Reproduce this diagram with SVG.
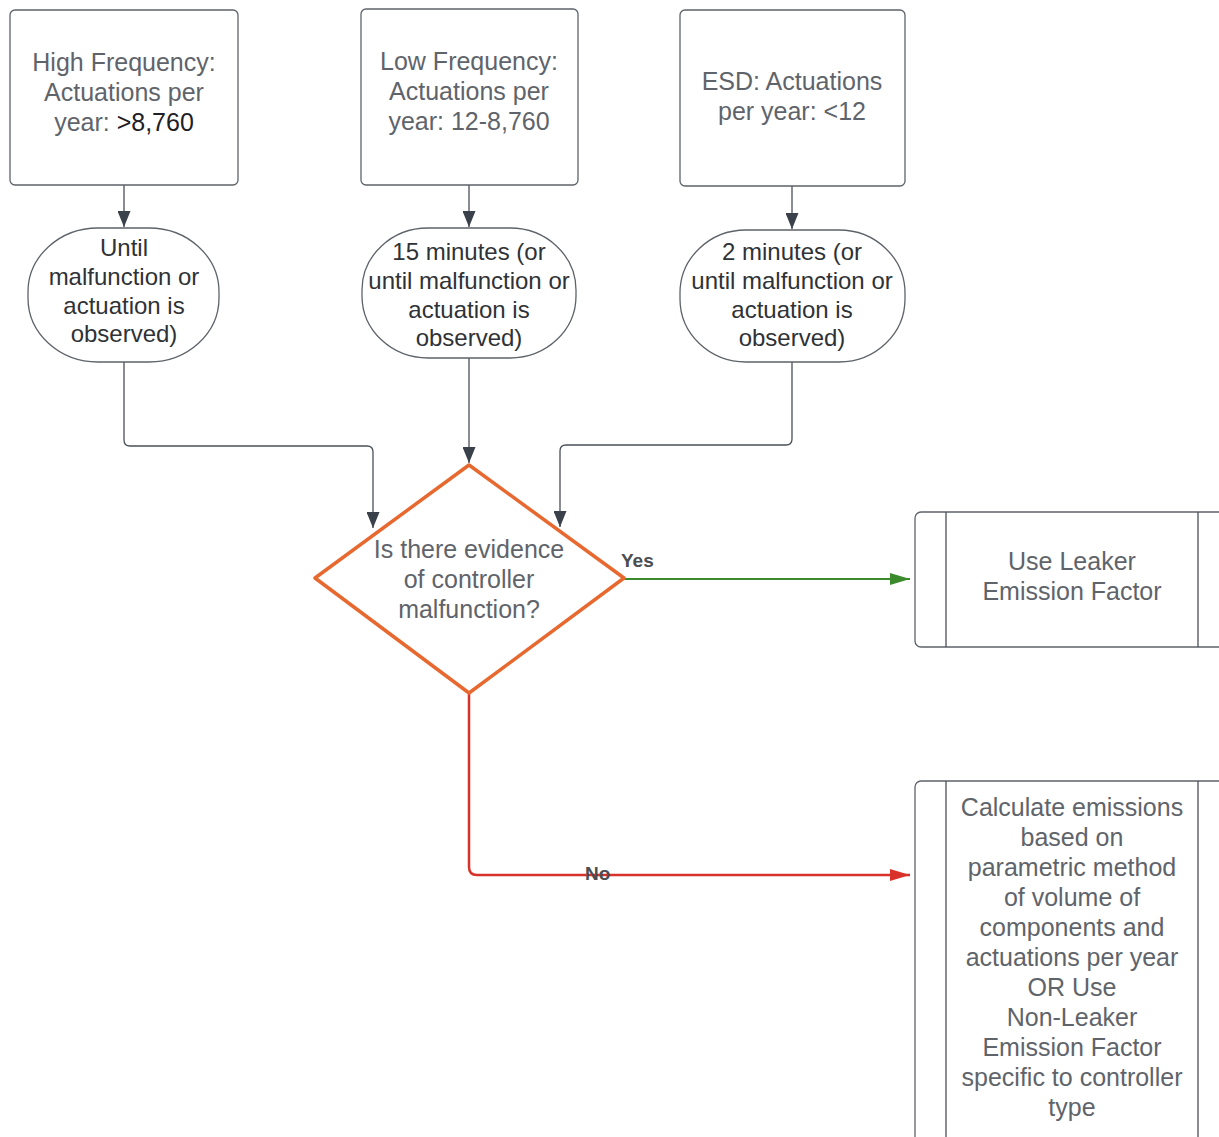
<svg xmlns="http://www.w3.org/2000/svg" width="1219" height="1137" viewBox="0 0 1219 1137">
<defs>
<marker id="ad" markerWidth="13" markerHeight="16" refX="6.5" refY="16" orient="0" markerUnits="userSpaceOnUse"><path d="M0,0 L13,0 L6.5,16 Z" fill="#3a414a"/></marker>
<marker id="ag" markerWidth="20" markerHeight="12" refX="20" refY="6" orient="auto" markerUnits="userSpaceOnUse"><path d="M0,0 L20,6 L0,12 Z" fill="#3b8a2b"/></marker>
<marker id="ar" markerWidth="20" markerHeight="12" refX="20" refY="6" orient="auto" markerUnits="userSpaceOnUse"><path d="M0,0 L20,6 L0,12 Z" fill="#d8322a"/></marker>
</defs>
<style>
.box{fill:#fff;stroke:#5e6369;stroke-width:1.3}
.t{font-family:"Liberation Sans",Arial,sans-serif;font-size:25px;text-anchor:middle;fill:#5f646b}
.d{fill:#2f3236;font-size:24px}
.c{fill:none;stroke:#4a5059;stroke-width:1.3}
.lbl{font-family:"Liberation Sans",Arial,sans-serif;font-size:19px;font-weight:bold;fill:#4a4d52}
</style>
<rect width="1219" height="1137" fill="#fff"/>
<g id="connectors">
<path class="c" d="M124,185 V227" marker-end="url(#ad)"/>
<path class="c" d="M469,185 V227" marker-end="url(#ad)"/>
<path class="c" d="M792,186 V229" marker-end="url(#ad)"/>
<path class="c" d="M124,362 V440 Q124,446 130,446 H367 Q373,446 373,452 V528" marker-end="url(#ad)"/>
<path class="c" d="M469,358 V463" marker-end="url(#ad)"/>
<path class="c" d="M792,362 V439 Q792,445 786,445 H566 Q560,445 560,451 V527" marker-end="url(#ad)"/>
<path d="M624,579 H910" fill="none" stroke="#3b8a2b" stroke-width="2" marker-end="url(#ag)"/>
<path d="M469,693 V867 Q469,875 477,875 H910" fill="none" stroke="#d8322a" stroke-width="2.5" marker-end="url(#ar)"/>
<text class="lbl" x="621" y="567">Yes</text>
<text class="lbl" x="585" y="880">No</text>
</g>
<g id="n1">
<rect class="box" x="10" y="10" width="228" height="175" rx="5"/>
<text class="t" x="124" y="71">High Frequency:</text>
<text class="t" x="124" y="101">Actuations per</text>
<text class="t" x="124" y="131">year: <tspan fill="#1e2024">&gt;8,760</tspan></text>
</g>
<g id="n2">
<rect class="box" x="361" y="9" width="217" height="176" rx="5"/>
<text class="t" x="469" y="70">Low Frequency:</text>
<text class="t" x="469" y="100">Actuations per</text>
<text class="t" x="469" y="130">year: 12-8,760</text>
</g>
<g id="n3">
<rect class="box" x="680" y="10" width="225" height="176" rx="5"/>
<text class="t" x="792" y="90">ESD: Actuations</text>
<text class="t" x="792" y="120">per year: &lt;12</text>
</g>
<g id="n4">
<rect class="box" x="28" y="228" width="191" height="134" rx="70" ry="64"/>
<text class="t d" x="124" y="256">Until</text>
<text class="t d" x="124" y="285">malfunction or</text>
<text class="t d" x="124" y="314">actuation is</text>
<text class="t d" x="124" y="342">observed)</text>
</g>
<g id="n5">
<rect class="box" x="362" y="228" width="214" height="130" rx="66" ry="62"/>
<text class="t d" x="469" y="260">15 minutes (or</text>
<text class="t d" x="469" y="289">until malfunction or</text>
<text class="t d" x="469" y="318">actuation is</text>
<text class="t d" x="469" y="346">observed)</text>
</g>
<g id="n6">
<rect class="box" x="680" y="230" width="225" height="132" rx="66" ry="63"/>
<text class="t d" x="792" y="260">2 minutes (or</text>
<text class="t d" x="792" y="289">until malfunction or</text>
<text class="t d" x="792" y="318">actuation is</text>
<text class="t d" x="792" y="346">observed)</text>
</g>
<g id="n7">
<path d="M469,465 L624,578 L469,693 L315,578 Z" fill="#fff" stroke="#e8692f" stroke-width="3.5" stroke-linejoin="round"/>
<text class="t" x="469" y="558">Is there evidence</text>
<text class="t" x="469" y="588">of controller</text>
<text class="t" x="469" y="618">malfunction?</text>
</g>
<g id="n8">
<rect class="box" x="915" y="512" width="320" height="135" rx="6"/>
<line class="c" x1="946" y1="512" x2="946" y2="647"/>
<line class="c" x1="1198" y1="512" x2="1198" y2="647"/>
<text class="t" x="1072" y="570">Use Leaker</text>
<text class="t" x="1072" y="600">Emission Factor</text>
</g>
<g id="n9">
<rect class="box" x="915" y="781" width="320" height="380" rx="6"/>
<line class="c" x1="946" y1="781" x2="946" y2="1137"/>
<line class="c" x1="1198" y1="781" x2="1198" y2="1137"/>
<text class="t" x="1072" y="816">Calculate emissions</text>
<text class="t" x="1072" y="846">based on</text>
<text class="t" x="1072" y="876">parametric method</text>
<text class="t" x="1072" y="906">of volume of</text>
<text class="t" x="1072" y="936">components and</text>
<text class="t" x="1072" y="966">actuations per year</text>
<text class="t" x="1072" y="996">OR Use</text>
<text class="t" x="1072" y="1026">Non-Leaker</text>
<text class="t" x="1072" y="1056">Emission Factor</text>
<text class="t" x="1072" y="1086">specific to controller</text>
<text class="t" x="1072" y="1116">type</text>
</g>
</svg>
